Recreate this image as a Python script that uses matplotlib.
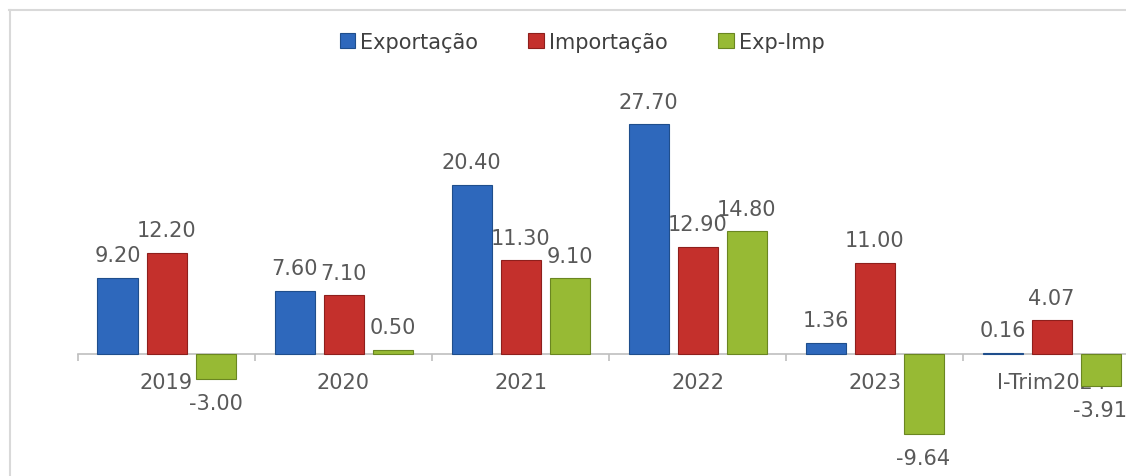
import matplotlib
matplotlib.use("Agg")
import matplotlib.pyplot as plt
import numpy as np
from matplotlib.lines import Line2D

categories = ["2019", "2020", "2021", "2022", "2023", "I-Trim2024"]
exportacao = [9.20, 7.60, 20.40, 27.70, 1.36, 0.16]
importacao = [12.20, 7.10, 11.30, 12.90, 11.00, 4.07]
exp_imp = [-3.00, 0.50, 9.10, 14.80, -9.64, -3.91]

series = [("Exportação", exportacao, "#2E68BC", "#1F4E8C"),
          ("Importação", importacao, "#C4302C", "#8E1F1C"),
          ("Exp-Imp", exp_imp, "#97BA34", "#6A8621")]

GRAY = "#595959"
W, H = 1126, 477
fig = plt.figure(figsize=(W / 100, H / 100), dpi=100)

# axes placed in pixel terms: first category boundary at x=78, zero line at y=355
ax = fig.add_axes([78 / W, (H - 460) / H, 1 - 78 / W, 400 / H])
ax.set_xlim(-0.5, (W - 78) / 177 - 0.5)
ax.set_ylim(-12.65, 35.54)

x = np.arange(len(categories))
step, width = 49 / 177, 40 / 177
handles = []
for k, (name, vals, col, edge) in enumerate(series):
    pos = x + (k - 1) * step
    bars = ax.bar(pos, vals, width, color=col, edgecolor=edge, linewidth=0.8, zorder=3)
    handles.append(bars)
    for xp, v in zip(pos, vals):
        if v >= 0:
            ax.annotate(f"{v:.2f}", (xp, v), xytext=(0, 9), textcoords="offset points",
                        ha="center", va="bottom", fontsize=15, color=GRAY, zorder=5)
        else:
            ax.annotate(f"{v:.2f}", (xp, v), xytext=(0, -10), textcoords="offset points",
                        ha="center", va="top", fontsize=15, color=GRAY, zorder=5)

for s in ["top", "right", "left"]:
    ax.spines[s].set_visible(False)
ax.spines["bottom"].set_position(("data", 0))
ax.spines["bottom"].set_color("#BFBFBF")
ax.spines["bottom"].set_linewidth(1.2)
ax.set_yticks([])
ax.set_xticks(x)
ax.set_xticklabels(categories, fontsize=15, color=GRAY)
ax.tick_params(axis="x", which="major", length=0, pad=13)
ax.set_xticks(np.arange(len(categories)) - 0.5, minor=True)
ax.tick_params(axis="x", which="minor", length=5, color="#BFBFBF", width=1.2)

leg = fig.legend(handles, [s[0] for s in series], loc="center", bbox_to_anchor=(0.517, 1 - 43 / H),
                 ncol=3, frameon=False, fontsize=15, handlelength=0.75, handleheight=0.75,
                 handletextpad=0.25, columnspacing=2.4)
for t in leg.get_texts():
    t.set_color("#404040")

# faint outer frame (top and left edges)
fig.add_artist(Line2D([9 / W, 1], [1 - 11 / H] * 2, transform=fig.transFigure,
                      color="#D9D9D9", lw=1.5))
fig.add_artist(Line2D([10 / W] * 2, [0, 1 - 11 / H], transform=fig.transFigure,
                      color="#D9D9D9", lw=1.5))

fig.savefig("out.png", dpi=100)
